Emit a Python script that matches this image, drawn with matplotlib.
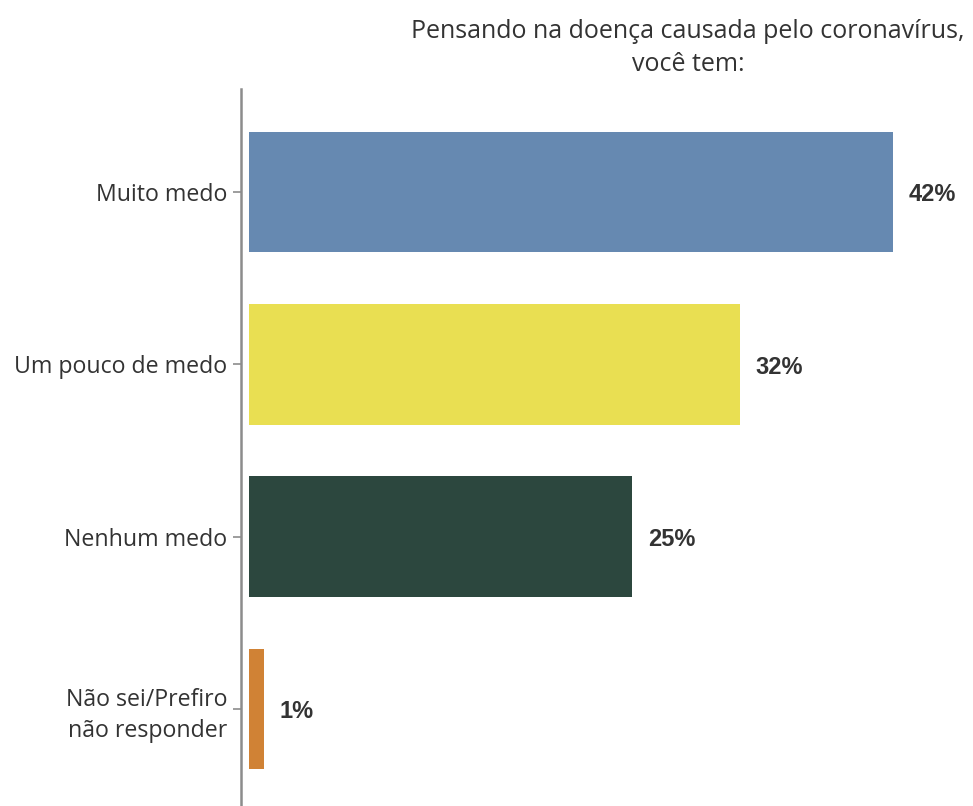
import matplotlib.pyplot as plt

# Survey answers and shares
categories = ["Muito medo", "Um pouco de medo", "Nenhum medo", "Não sei/Prefiro\nnão responder"]
values = [42, 32, 25, 1]
labels = ["42%", "32%", "25%", "1%"]
colors = ["#6689B1", "#E9DF52", "#2C473E", "#D08235"]

title = "Pensando na doença causada pelo coronavírus,\nvocê tem:"

fig = plt.figure(figsize=(9.73, 8.06), dpi=100)
ax = fig.add_axes([241 / 973, 0, 1 - 241 / 973, (806 - 89) / 806])

y = range(len(categories))
ax.barh(y, values, height=0.70, color=colors)

for yi, v, lab in zip(y, values, labels):
    ax.annotate(lab, (v, yi), xytext=(11, -2), textcoords="offset points",
                va="center", ha="left", fontsize=17, fontweight="bold",
                family="Liberation Sans", color="#333333")

ax.set_yticks(list(y))
ax.set_yticklabels(categories, fontsize=16.7, family="Open Sans", color="#333333",
                   linespacing=1.4)
ax.set_ylim(3.563, -0.598)
ax.set_xlim(-0.52, 47.2)
ax.set_xticks([])

for side in ["top", "right", "bottom"]:
    ax.spines[side].set_visible(False)
ax.spines["left"].set_color("#8c8c8c")
ax.spines["left"].set_linewidth(1.8)
ax.tick_params(axis="y", length=6, width=1.2, color="#8c8c8c", pad=4)

fig.text(688 / 973, 1 - 48 / 806, title, ha="center", va="center",
         fontsize=18, family="Open Sans", color="#333333", linespacing=1.4)

fig.savefig("out.png", dpi=100)
